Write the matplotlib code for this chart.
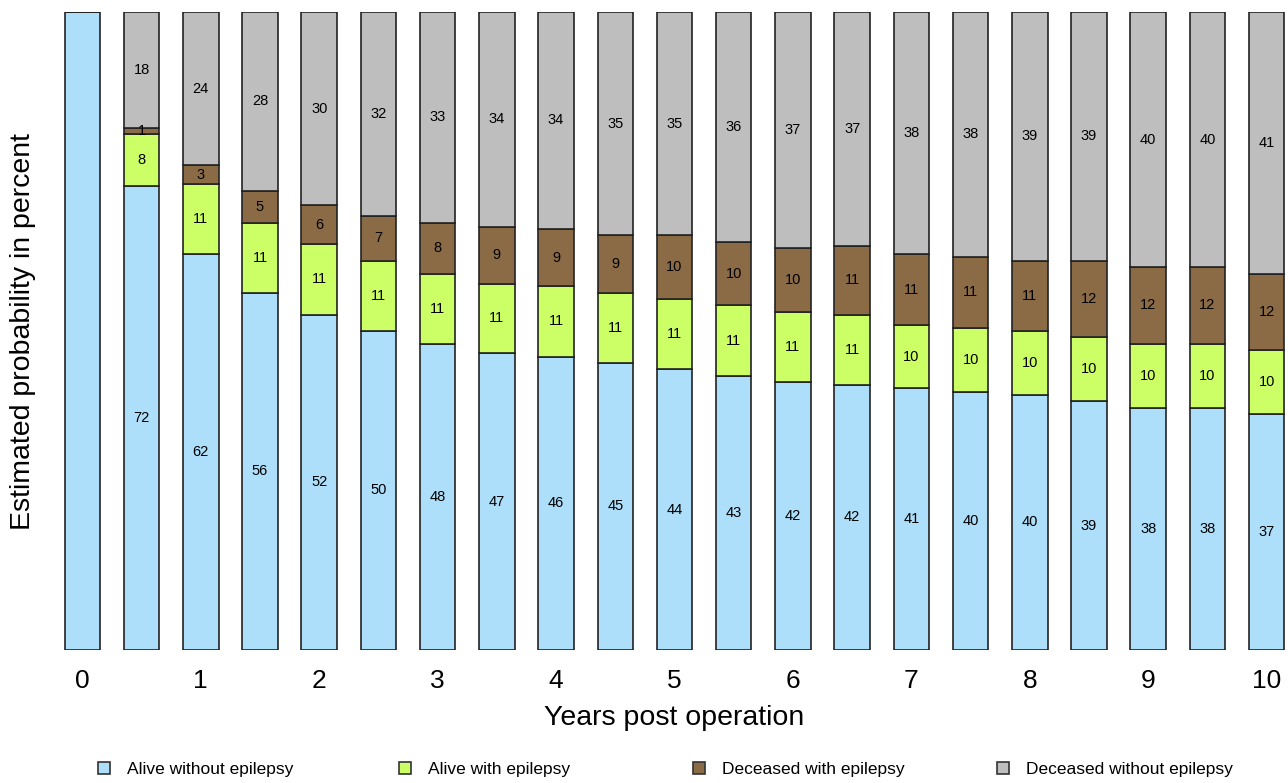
import matplotlib.pyplot as plt
from matplotlib.lines import Line2D
import numpy as np

plt.rcParams['font.family'] = ['Liberation Sans', 'DejaVu Sans']

# years post operation, one bar every half year
years = [0, 0.5, 1, 1.5, 2, 2.5, 3, 3.5, 4, 4.5, 5, 5.5, 6, 6.5, 7, 7.5, 8, 8.5, 9, 9.5, 10]
alive_no_epi = [100, 72, 62, 56, 52, 50, 48, 47, 46, 45, 44, 43, 42, 42, 41, 40, 40, 39, 38, 38, 37]
alive_epi = [0, 8, 11, 11, 11, 11, 11, 11, 11, 11, 11, 11, 11, 11, 10, 10, 10, 10, 10, 10, 10]
dead_epi = [0, 1, 3, 5, 6, 7, 8, 9, 9, 9, 10, 10, 10, 11, 11, 11, 11, 12, 12, 12, 12]
dead_no_epi = [0, 18, 24, 28, 30, 32, 33, 34, 34, 35, 35, 36, 37, 37, 38, 38, 39, 39, 40, 40, 41]

series_names = ['Alive without epilepsy', 'Alive with epilepsy',
                'Deceased with epilepsy', 'Deceased without epilepsy']
colors = ['#addffa', '#ccff66', '#8b6b45', '#bebebe']
tick_years = [0, 1, 2, 3, 4, 5, 6, 7, 8, 9, 10]

fig = plt.figure(figsize=(12.88, 7.83), dpi=100)
ax = fig.add_axes([61 / 1288, 1 - 650 / 783, 1227 / 1288, 638 / 783])

series = np.array([alive_no_epi, alive_epi, dead_epi, dead_no_epi], dtype=float)
# rounded labels don't always add to 100, bars in the figure all fill the column
shares = series / series.sum(axis=0) * 100

bottom = np.zeros(len(years))
for i, (vals, color) in enumerate(zip(shares, colors)):
    ax.bar(years, vals, bottom=bottom, width=0.3, color=color,
           edgecolor='#222222', linewidth=1.2)
    for j, (x, v) in enumerate(zip(years, vals)):
        raw = series[i][j]
        if 0 < raw < 100:
            ax.text(x, bottom[j] + v / 2, f'{int(raw)}', ha='center', va='center',
                    fontsize=10.5, color='black')
    bottom += vals

ax.set_xlim(-0.18, 10.18)
ax.set_ylim(0, 100)
ax.set_xticks(tick_years)
ax.set_xticklabels([str(t) for t in tick_years], fontsize=19)
ax.tick_params(axis='x', length=0, pad=14)
ax.set_yticks([])
for spine in ax.spines.values():
    spine.set_visible(False)

ax.set_xlabel('Years post operation', fontsize=20.5, labelpad=8)
ax.set_ylabel('Estimated probability in percent', fontsize=20.5)
ax.yaxis.set_label_coords(-0.02, 0.5)

# legend entries spread along the bottom
legend_x = [87 / 1288, 388 / 1288, 682 / 1288, 986 / 1288]
for name, color, lx in zip(series_names, colors, legend_x):
    handle = Line2D([], [], marker='s', linestyle='none', markersize=8,
                    markerfacecolor=color, markeredgecolor='#333333', markeredgewidth=1.2)
    fig.legend(handles=[handle], labels=[name], loc='center left',
               bbox_to_anchor=(lx, 0.017), frameon=False, fontsize=12.5,
               handletextpad=0.8, borderpad=0, handlelength=1.0)

fig.savefig('out.png', dpi=100)
